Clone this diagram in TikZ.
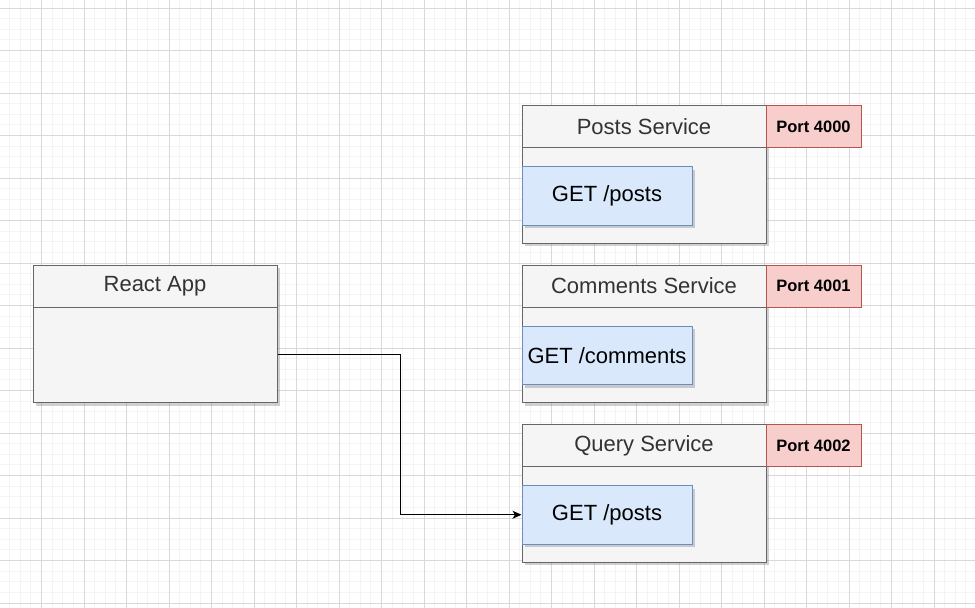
\documentclass[tikz,border=0pt]{standalone}
\usepackage{fontspec}
\setmainfont{Liberation Sans}
\usetikzlibrary{shadows,arrows.meta,calc}
\definecolor{gridminor}{HTML}{F4F4F4}
\definecolor{gridmajor}{HTML}{D9D9D9}
\definecolor{boxfill}{HTML}{F5F5F5}
\definecolor{boxline}{HTML}{666666}
\definecolor{titletext}{HTML}{333333}
\definecolor{getfill}{HTML}{DAE8FC}
\definecolor{getline}{HTML}{6C8EBF}
\definecolor{portfill}{HTML}{F8CECC}
\definecolor{portline}{HTML}{B85450}
\tikzset{
  boxshadow/.style={drop shadow={shadow xshift=3pt, shadow yshift=-3pt, opacity=0.3, fill=black!60}},
  container/.style={draw=boxline, fill=boxfill, line width=1pt, anchor=north west,
    minimum width=244pt, minimum height=137.5pt, inner sep=0pt, boxshadow},
  header/.style={draw=boxline, fill=boxfill, line width=1pt, anchor=north west,
    minimum width=244pt, minimum height=42pt, inner sep=0pt, text=titletext,
    font=\fontsize{22}{26}\selectfont},
  getbox/.style={draw=getline, fill=getfill, line width=1pt, anchor=north west,
    minimum width=170pt, minimum height=58.5pt, inner sep=0pt, text=black,
    font=\fontsize{22}{26}\selectfont, boxshadow},
  portbox/.style={draw=portline, fill=portfill, line width=1pt, anchor=north west,
    minimum width=95pt, minimum height=42pt, inner sep=0pt, text=black,
    font=\fontsize{16.5}{20}\selectfont\bfseries},
  conn/.style={draw=black, line width=1pt, -{Stealth[length=9pt,width=8pt,inset=2.5pt]}},
}
\begin{document}
\begin{tikzpicture}[x=1pt,y=-1pt]
\useasboundingbox (0,0) rectangle (975,608);
\fill[white] (0,0) rectangle (975,608);
% grid
\foreach \k in {-4,...,92} {
  \draw[gridminor, line width=1pt] ({41.5+10.625*\k},0) -- ({41.5+10.625*\k},608);
}
\foreach \k in {-1,...,57} {
  \draw[gridminor, line width=1pt] (0,{8+10.625*\k}) -- (975,{8+10.625*\k});
}
\foreach \k in {-1,...,22} {
  \draw[gridmajor, line width=1pt] ({41.5+42.5*\k},0) -- ({41.5+42.5*\k},608);
}
\foreach \k in {0,...,14} {
  \draw[gridmajor, line width=1pt] (0,{8+42.5*\k}) -- (975,{8+42.5*\k});
}

% React App
\node[container] (react) at (32.5,264.5) {};
\node[header] (reacthead) at (32.5,264.5) {React App};

% Posts Service
\node[container] (posts) at (521.5,105) {};
\node[header] (postshead) at (521.5,105) {Posts Service};
\node[getbox] (postsget) at (521.5,166) {GET /posts};
\node[portbox] (postsport) at (765.5,105) {Port 4000};

% Comments Service
\node[container] (comments) at (521.5,264.5) {};
\node[header] (commentshead) at (521.5,264.5) {Comments Service};
\node[getbox] (commentsget) at (521.5,325.5) {GET /comments};
\node[portbox] (commentsport) at (765.5,264.5) {Port 4001};

% Query Service
\node[container] (query) at (521.5,424) {};
\node[header] (queryhead) at (521.5,424) {Query Service};
\node[getbox] (queryget) at (521.5,485) {GET /posts};
\node[portbox] (queryport) at (765.5,424) {Port 4002};

% connector
\draw[conn] ([yshift=-21pt]react.east) -- ++(122.5,0) |- (queryget.west);
\end{tikzpicture}
\end{document}
